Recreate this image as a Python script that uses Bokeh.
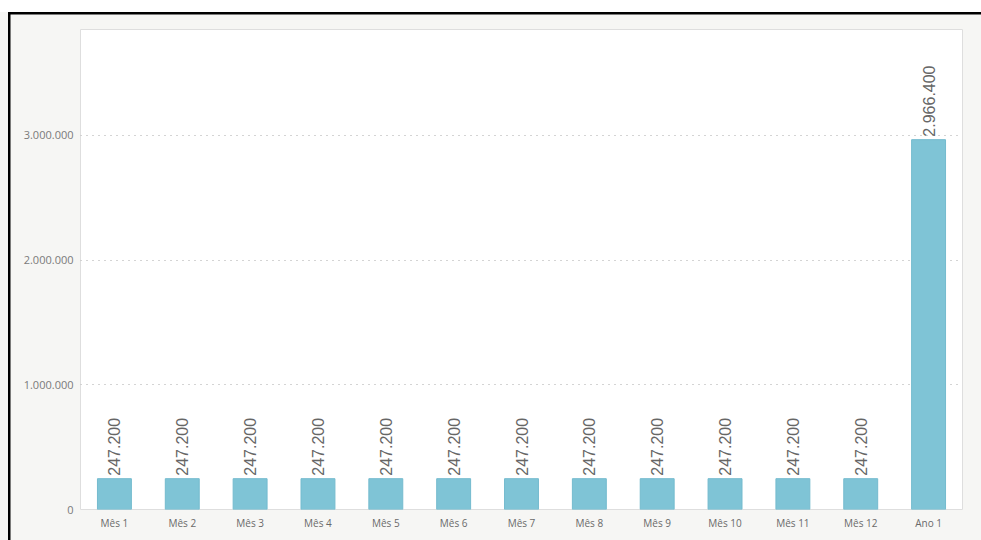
from bokeh.plotting import figure
from bokeh.models import Range1d, FixedTicker, LinearAxis, ColumnDataSource
from bokeh.embed import file_html
from bokeh.resources import INLINE
from bokeh.core.properties import value
import math

categories = ["Mês 1", "Mês 2", "Mês 3", "Mês 4", "Mês 5", "Mês 6", "Mês 7",
              "Mês 8", "Mês 9", "Mês 10", "Mês 11", "Mês 12", "Ano 1"]
revenues = [247200] * 12 + [2966400]
value_labels = ["247.200"] * 12 + ["2.966.400"]
y_ticks = [0, 1000000, 2000000, 3000000]
y_tick_labels = ["0", "1.000.000", "2.000.000", "3.000.000"]
title_bold = "Gráfico 5:"
title_rest = "Projeção de receitas"

positions = list(range(len(categories)))

W, H = 981, 540
Y_MAX = 3850000
p = figure(width=W, height=H, output_backend="svg", toolbar_location=None,
           x_range=Range1d(-0.5, len(categories) - 0.5),
           y_range=Range1d(0, Y_MAX),
           min_border_left=80, min_border_right=19, min_border_top=29, min_border_bottom=31)

p.background_fill_color = "white"
p.border_fill_alpha = 0
p.outline_line_color = "#dedede"
p.outline_line_width = 1

# outer page frame (grey panel, white strip above, black rules) as CSS background
p.styles = {
    "background-color": "#f6f6f4",
    "background-image": ("linear-gradient(#000, #000), linear-gradient(#000, #000), "
                         "linear-gradient(#fff, #fff)"),
    "background-position": "8px 12px, 8px 12px, 0px 0px",
    "background-size": "2.5px 528px, 973px 2.5px, 981px 12px",
    "background-repeat": "no-repeat, no-repeat, no-repeat",
}

src = ColumnDataSource(dict(x=positions, val=revenues, lab=value_labels))
p.vbar(x="x", top="val", width=0.5, source=src, fill_color="#7fc4d6",
       line_color="#74bbce", line_width=1)
p.text(x="x", y="val", text="lab", source=src, angle=math.pi / 2,
       text_align="left", text_baseline="middle", y_offset=-3,
       text_font=value("Liberation Sans"), text_font_size="16px", text_color="#666666")

# axes
p.yaxis.ticker = FixedTicker(ticks=y_ticks)
p.yaxis.major_label_overrides = {t: l for t, l in zip(y_ticks, y_tick_labels)}
p.yaxis.axis_line_color = None
p.yaxis.major_tick_line_color = None
p.yaxis.minor_tick_line_color = None
p.yaxis.major_tick_out = 0
p.yaxis.major_label_standoff = 7
p.yaxis.major_label_text_font = "Open Sans"
p.yaxis.major_label_text_font_size = "11px"
p.yaxis.major_label_text_color = "#7a7a7a"

p.xaxis.ticker = FixedTicker(ticks=positions)
p.xaxis.major_label_overrides = {i: c for i, c in zip(positions, categories)}
p.xaxis.axis_line_color = None
p.xaxis.major_tick_line_color = None
p.xaxis.minor_tick_line_color = None
p.xaxis.major_tick_out = 0
p.xaxis.major_label_standoff = 6
p.xaxis.major_label_text_font = "Open Sans"
p.xaxis.major_label_text_font_size = "10px"
p.xaxis.major_label_text_color = "#6a6a6a"

p.xgrid.grid_line_color = None
p.ygrid.ticker = FixedTicker(ticks=y_ticks[1:])
p.ygrid.grid_line_color = "#a8a8a8"
p.ygrid.grid_line_dash = "1 5"
p.ygrid.grid_line_width = 1.2

# cut-off document caption above the chart, drawn as axis labels
for txt, pos, style in [(title_bold, 4.5, "bold"), (title_rest, 6.5, "normal")]:
    ax = LinearAxis(fixed_location=Y_MAX, ticker=FixedTicker(ticks=[pos]),
                    major_label_overrides={pos: txt})
    ax.axis_line_color = None
    ax.major_tick_line_color = None
    ax.minor_tick_line_color = None
    ax.major_tick_out = 0
    ax.major_tick_in = 0
    ax.major_label_standoff = 9
    ax.major_label_text_font = "Liberation Serif"
    ax.major_label_text_font_style = style
    ax.major_label_text_font_size = "22px"
    ax.major_label_text_color = "black"
    p.add_layout(ax, "above")

open("out.html", "w").write(file_html(p, INLINE))
